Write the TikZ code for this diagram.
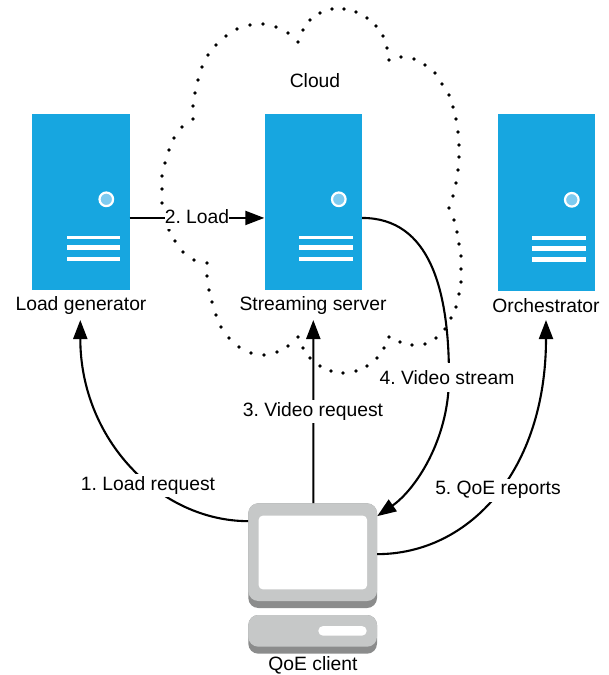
\documentclass[tikz,border=0pt]{standalone}
\usepackage{fontspec}
\setmainfont{Liberation Sans}
\usetikzlibrary{arrows.meta}
\definecolor{serverblue}{HTML}{17A6E0}
\definecolor{ledblue}{HTML}{7FCBF0}
\definecolor{caselight}{HTML}{C6C8C8}
\definecolor{casedark}{HTML}{8B8C8C}
\tikzset{
  serverbox/.style={fill=serverblue, minimum width=97.5pt, minimum height=176.5pt, inner sep=0pt},
  casebox/.style={rounded corners=10pt, minimum width=128.7pt, inner sep=0pt},
  caption/.style={font=\fontsize{19.3}{23}\selectfont\frenchspacing, inner sep=0pt},
  linklabel/.style={caption, fill=white, minimum height=23pt},
  link/.style={line width=2.1pt, -{Triangle[length=19pt, width=14pt]}},
}
\newcommand{\serverparts}[1]{
  \begin{scope}[shift={(#1.north west)}]
    \draw[white, line width=2.2pt, fill=ledblue] (74.5, 86) circle (6.8pt);
    \fill[white] (35, 122.5) rectangle (88.5, 125.8);
    \fill[white] (35, 131.8) rectangle (88.5, 136.8);
    \fill[white] (35, 143.2) rectangle (88.5, 147.8);
  \end{scope}
}
\begin{document}
\begin{tikzpicture}[x=1pt, y=-1pt]
  \useasboundingbox (0, 0) rectangle (609, 675);

  \foreach \dotpos in {(298,42),(288,33),(276,27),(263,24),(250,25),(237,29),(226,36),(216,45),
      (208,55),(202,67),(198,80),(195,93),(193,106),(193,119),(182,127),(174,138),(169,150),
      (165,163),(162,176),(162,189),(162,203),(169,230),(175,241),(183,252),(194,260),(207,263),
      (207,276),(209,290),(212,302),(216,315),(221,327),(229,338),(239,347),(251,353),(264,355),
      (277,352),(288,346),(298,337),(303,348),(310,358),(320,366),(331,371),(343,373),(356,371),
      (367,366),(377,358),(384,348),(389,337),(400,342),(412,345),(425,344),(436,338),(445,329),
      (451,318),(456,307),(459,294),(461,282),(461,269),(461,256),(459,244),(457,232),(454,220),
      (449,208),(453,196),(456,183),(458,170),(459,157),(459,145),(458,132),(456,119),(453,107),
      (449,95),(442,84),(435,73),(425,65),(414,59),(401,57),(389,60),(387,48),(383,36),(376,26),
      (367,18),(356,12),(344,9),(332,9),(320,13),(310,20),(303,30)}
    \fill \dotpos circle (1.9pt);

  \node[serverbox] (gen) at (80.75, 201.75) {};
  \node[serverbox] (stream) at (313.25, 201.75) {};
  \node[serverbox] (orch) at (546.25, 202.25) {};
  \foreach \srv in {gen, stream, orch} {
    \serverparts{\srv}
  }

  \node[casebox, fill=casedark, minimum height=104.7pt] (clientedge) at (312.65, 555.65) {};
  \node[casebox, fill=caselight, minimum height=97.7pt] (client) at (312.65, 552.15) {};
  \node[fill=white, rounded corners=4pt, minimum width=108.3pt, minimum height=73.6pt, inner sep=0pt] (screen) at (312.85, 552.5) {};
  \node[casebox, fill=casedark, minimum height=38.7pt] (baseedge) at (312.65, 634.35) {};
  \node[casebox, fill=caselight, minimum height=31.7pt] (base) at (312.65, 630.85) {};
  \node[fill=white, rounded corners=4.8pt, minimum width=48.4pt, minimum height=9.7pt, inner sep=0pt] (slot) at (342.5, 630.85) {};

  \node[caption] (gencap) at (81, 305.5) {Load generator};
  \node[caption] (streamcap) at (313, 305.5) {Streaming server};
  \node[caption] (orchcap) at (546, 306) {Orchestrator};
  \node[caption] (clientcap) at (313, 665) {QoE client};
  \node[caption] (cloudcap) at (315, 81) {Cloud};

  \coordinate (genin) at (80.3, 320);
  \coordinate (streamin) at (313.3, 320);
  \coordinate (orchin) at (546, 320);
  \coordinate (bend) at (449, 377);

  \draw[link] ([yshift=31pt]client.west) .. controls (160, 521) and (80.3, 440) .. (genin);
  \draw[link] ([yshift=-16.2pt]gen.east) -- ([yshift=-16.2pt]stream.west);
  \draw[link] (client.north) ++(0.65, 0) -- (streamin);
  \draw[link] ([yshift=-16.2pt]stream.east) .. controls (430, 218) and (449, 290) .. (bend)
    .. controls (449, 440) and (415, 490) .. ([yshift=36pt]client.east);
  \draw[link] ([yshift=-2pt]client.east) .. controls (470, 554) and (546, 470) .. (orchin);

  \node[linklabel] (loadreq) at (148, 485.5) {1. Load request};
  \node[linklabel] (load) at (197, 217) {2. Load};
  \node[linklabel] (videoreq) at (313, 411.5) {3. Video request};
  \node[linklabel, minimum height=29pt] (videostream) at (447, 377.5) {4. Video stream};
  \node[linklabel] (reports) at (498, 490) {5. QoE reports};
\end{tikzpicture}
\end{document}
